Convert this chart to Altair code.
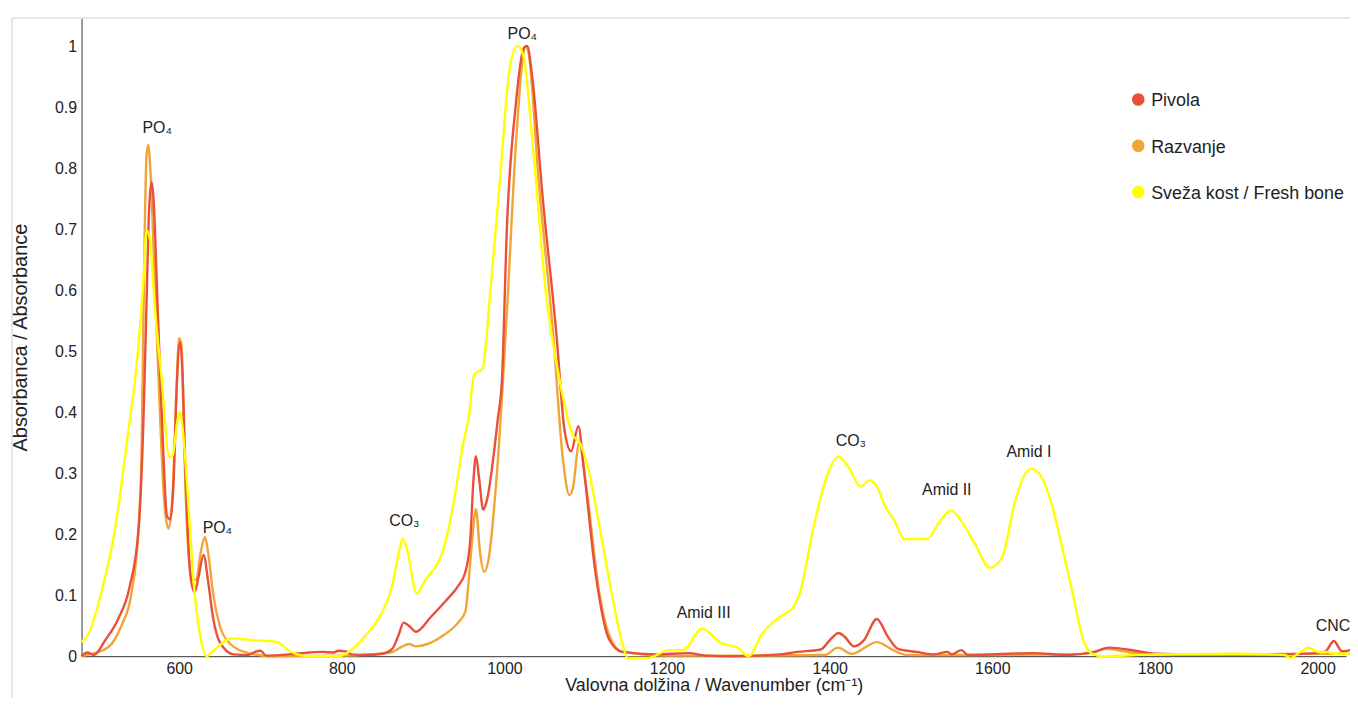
import altair as alt
import pandas as pd

series_names = ["Pivola", "Razvanje", "Sveža kost / Fresh bone"]
series_colors = ["#E9503A", "#F0A536", "#FFFF00"]

pivola_x = [480, 487, 495, 509, 525, 539, 550, 556, 560, 563, 566, 568, 574, 580, 585, 589, 593, 597, 601, 604,
            608, 614, 619, 624, 630, 636, 642, 650, 667, 685, 695, 700, 707, 735, 760, 776, 790, 796, 805, 812,
            830, 850, 862, 870, 876, 884, 891, 910, 928, 943, 952, 958, 962, 965, 969, 974, 978, 992, 997, 1003,
            1014, 1024, 1028, 1034, 1047, 1064, 1074, 1082, 1091, 1097, 1112, 1129, 1145, 1185, 1227, 1247, 1276,
            1339, 1360, 1389, 1402, 1411, 1419, 1430, 1442, 1458, 1472, 1484, 1507, 1528, 1545, 1550, 1562, 1570,
            1650, 1692, 1726, 1743, 1776, 1800, 1850, 1900, 1950, 2000, 2010, 2020, 2030, 2040]
pivola_y = [0.0, 0.006, 0.002, 0.026, 0.061, 0.113, 0.207, 0.381, 0.585, 0.73, 0.777, 0.759, 0.556, 0.352, 0.23,
            0.224, 0.282, 0.44, 0.515, 0.468, 0.294, 0.131, 0.105, 0.131, 0.166, 0.119, 0.061, 0.023, 0.003, 0.002,
            0.008, 0.009, 0.001, 0.003, 0.006, 0.007, 0.006, 0.009, 0.008, 0.003, 0.002, 0.004, 0.012, 0.035,
            0.055, 0.048, 0.040, 0.065, 0.091, 0.115, 0.138, 0.19, 0.29, 0.328, 0.29, 0.24, 0.253, 0.39, 0.452,
            0.70, 0.904, 0.997, 1.0, 0.952, 0.753, 0.527, 0.37, 0.336, 0.377, 0.315, 0.137, 0.027, 0.007, 0.003,
            0.005, 0.001, 0.0, 0.003, 0.007, 0.011, 0.029, 0.038, 0.031, 0.016, 0.026, 0.061, 0.031, 0.012, 0.007,
            0.003, 0.007, 0.003, 0.01, 0.002, 0.005, 0.002, 0.007, 0.014, 0.009, 0.004, 0.003, 0.003, 0.003,
            0.005, 0.008, 0.025, 0.008, 0.01]

razvanje_x = [480, 490, 513, 529, 541, 550, 554, 557, 560, 562, 565, 570, 576, 582, 587, 592, 596, 600, 603, 606,
              611, 616, 621, 626, 632, 636, 642, 650, 663, 683, 715, 800, 860, 872, 883, 891, 926, 943, 952, 956,
              961, 965, 970, 975, 980, 992, 1003, 1014, 1022, 1026, 1030, 1042, 1060, 1072, 1080, 1084, 1092, 1101,
              1116, 1129, 1145, 1200, 1300, 1394, 1410, 1427, 1458, 1478, 1495, 1600, 1700, 1720, 1740, 1770, 1800,
              1900, 2000, 2040]
razvanje_y = [0.0, 0.003, 0.015, 0.05, 0.10, 0.207, 0.35, 0.643, 0.823, 0.838, 0.788, 0.614, 0.41, 0.247, 0.209,
              0.265, 0.41, 0.521, 0.509, 0.352, 0.177, 0.125, 0.125, 0.166, 0.195, 0.166, 0.10, 0.05, 0.02, 0.006,
              0.0, 0.001, 0.006, 0.014, 0.02, 0.016, 0.035, 0.055, 0.073, 0.122, 0.20, 0.241, 0.17, 0.138, 0.155,
              0.322, 0.562, 0.836, 0.973, 1.0, 0.986, 0.781, 0.527, 0.322, 0.264, 0.274, 0.349, 0.274, 0.11, 0.034,
              0.007, 0.001, 0.001, 0.002, 0.014, 0.004, 0.023, 0.01, 0.002, 0.002, 0.003, 0.005, 0.012, 0.006,
              0.003, 0.003, 0.004, 0.004]

svezakost_x = [480, 489, 505, 521, 537, 547, 556, 560, 564, 570, 578, 588, 592, 598, 601, 605, 612, 618, 626, 634,
               642, 665, 695, 721, 735, 760, 796, 816, 830, 844, 862, 871, 875, 881, 892, 902, 926, 943, 948, 956,
               963, 973, 983, 995, 1006, 1016, 1023, 1035, 1051, 1068, 1084, 1093, 1103, 1116, 1133, 1145, 1152,
               1177, 1202, 1220, 1243, 1267, 1287, 1300, 1317, 1338, 1355, 1363, 1380, 1397, 1411, 1424, 1438, 1449,
               1459, 1467, 1480, 1492, 1520, 1533, 1549, 1562, 1579, 1597, 1612, 1628, 1641, 1648, 1659, 1672, 1686,
               1699, 1712, 1723, 1735, 1800, 1900, 1960, 1966, 1980, 1989, 1998, 2005, 2012, 2020, 2040]
svezakost_y = [0.023, 0.038, 0.108, 0.207, 0.364, 0.468, 0.614, 0.698, 0.684, 0.573, 0.462, 0.326, 0.329, 0.387,
               0.40, 0.364, 0.236, 0.119, 0.032, 0.0, 0.009, 0.029, 0.026, 0.023, 0.009, 0.0, 0.0, 0.015, 0.035,
               0.059, 0.116, 0.175, 0.193, 0.171, 0.103, 0.123, 0.18, 0.295, 0.34, 0.39, 0.462, 0.471, 0.603, 0.788,
               0.959, 1.0, 0.986, 0.836, 0.596, 0.452, 0.363, 0.349, 0.308, 0.219, 0.096, 0.021, -0.003, -0.003,
               0.01, 0.01, 0.045, 0.021, 0.014, 0.0, 0.037, 0.064, 0.08, 0.102, 0.211, 0.297, 0.327, 0.308, 0.278,
               0.288, 0.276, 0.249, 0.221, 0.192, 0.192, 0.216, 0.239, 0.221, 0.183, 0.145, 0.162, 0.254, 0.30,
               0.307, 0.297, 0.254, 0.178, 0.102, 0.026, 0.004, 0.0, 0.003, 0.004, 0.002, -0.003, 0.008, 0.014,
               0.008, 0.006, 0.007, 0.004, 0.004]

ann_labels = ["PO₄", "PO₄", "CO₃", "PO₄", "Amid III", "CO₃", "Amid II", "Amid I", "CNC"]
ann_x = [573, 647, 877, 1022, 1245, 1426, 1544, 1645, 2019]
ann_y = [0.865, 0.21, 0.222, 1.02, 0.07, 0.352, 0.272, 0.335, 0.049]

x_ticks = [600, 800, 1000, 1200, 1400, 1600, 1800, 2000]
y_ticks = [0, 0.1, 0.2, 0.3, 0.4, 0.5, 0.6, 0.7, 0.8, 0.9, 1]

rows = []
for name, xs, ys in [(series_names[0], pivola_x, pivola_y),
                     (series_names[1], razvanje_x, razvanje_y),
                     (series_names[2], svezakost_x, svezakost_y)]:
    assert len(xs) == len(ys), name
    for i, (a, b) in enumerate(zip(xs, ys)):
        rows.append({"series": name, "wn": a, "absorb": b, "idx": i})
df = pd.DataFrame(rows)

ann_df = pd.DataFrame({"label": ann_labels, "wn": ann_x, "absorb": ann_y})
legend_df = pd.DataFrame({"series": series_names, "rank": [0, 1, 2]})

FONT = "Liberation Sans"
xscale = alt.Scale(domain=[480, 2035], nice=False, zero=False)
yscale = alt.Scale(domain=[0, 1.046], nice=False, zero=False)
cscale = alt.Scale(domain=series_names, range=series_colors)

xaxis = alt.Axis(title="Valovna dolžina / Wavenumber (cm⁻¹)", values=x_ticks, format="d",
                 labelPadding=4, titlePadding=1, titleFontSize=18, grid=False, ticks=False)
yaxis = alt.Axis(title="Absorbanca / Absorbance", values=y_ticks, format="~g",
                 labelPadding=5, titlePadding=24, grid=False, ticks=False)


def series_layer(name):
    return alt.Chart(df).transform_filter(alt.datum.series == name).mark_line(
        strokeWidth=2.4, interpolate="monotone", clip=False
    ).encode(
        x=alt.X("wn:Q", scale=xscale, axis=xaxis),
        y=alt.Y("absorb:Q", scale=yscale, axis=yaxis),
        color=alt.Color("series:N", scale=cscale, legend=None),
        order="idx:Q",
    )


annotations = alt.Chart(ann_df).mark_text(
    font=FONT, fontSize=16, color="#222222", baseline="middle", align="center"
).encode(
    x=alt.X("wn:Q", scale=xscale, axis=xaxis),
    y=alt.Y("absorb:Q", scale=yscale, axis=yaxis),
    text="label:N",
)

main = alt.layer(series_layer(series_names[1]), series_layer(series_names[0]),
                 series_layer(series_names[2]), annotations)

legend_dots = alt.Chart(legend_df).mark_circle(size=160, opacity=1).encode(
    x=alt.value(1063),
    y=alt.Y("rank:Q", scale=alt.Scale(domain=[0, 2], range=[82, 175]), axis=None),
    color=alt.Color("series:N", scale=cscale, legend=None),
)
legend_text = alt.Chart(legend_df).mark_text(
    font=FONT, fontSize=18, color="#222222", align="left", baseline="middle", dx=13, dy=2
).encode(
    x=alt.value(1063),
    y=alt.Y("rank:Q", scale=alt.Scale(domain=[0, 2], range=[82, 175]), axis=None),
    text="series:N",
)

# faint frame of the original figure
frame_left = alt.Chart(legend_df).mark_rule(color="#e3e3e3", strokeWidth=1).encode(
    x=alt.value(-70), y=alt.value(0), y2=alt.value(700)
)
frame_top = alt.Chart(legend_df).mark_rule(color="#e3e3e3", strokeWidth=1).encode(
    x=alt.value(-70), x2=alt.value(1290), y=alt.value(0)
)
legend = alt.layer(frame_left, frame_top, legend_dots, legend_text)

chart = alt.layer(legend, main).resolve_scale(y="independent").properties(
    width=1272, height=642, background="white",
    autosize=alt.AutoSizeParams(type="none"),
    padding={"left": 74, "top": 8, "right": 4, "bottom": 40},
).configure_view(stroke=None).configure_axis(
    grid=False, ticks=False, domainColor="#333333", domainWidth=1,
    labelFont=FONT, labelFontSize=16, labelColor="#222222",
    titleFont=FONT, titleFontSize=20, titleFontWeight="normal", titleColor="#222222",
)

chart.save("out.html", embed_options={"renderer": "svg", "actions": False})
